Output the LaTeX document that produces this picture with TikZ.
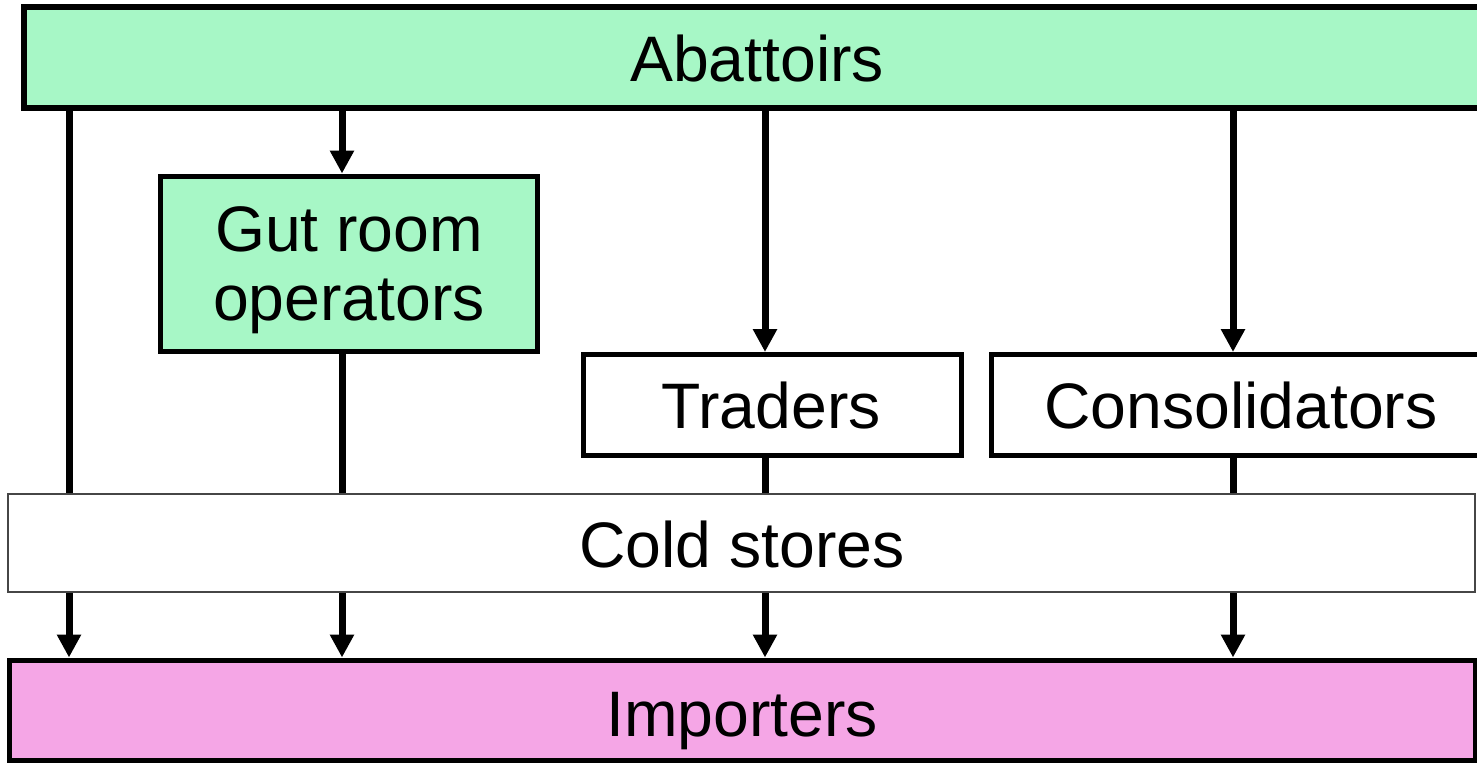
\documentclass[tikz,border=0pt]{standalone}
\usepackage{fontspec}
\setmainfont{Liberation Sans}
\usetikzlibrary{arrows.meta}
\definecolor{boxgreen}{RGB}{167,247,198}
\definecolor{boxpink}{RGB}{245,166,230}
\definecolor{thinborder}{RGB}{70,70,70}
\begin{document}
\begin{tikzpicture}[x=1pt,y=-1pt,
  lbl/.style={inner sep=0pt, anchor=base, font=\fontsize{64.3}{73}\selectfont},
  thickbox/.style={inner sep=0pt, draw=black, line width=5pt},
  flow/.style={line width=7pt, -{Triangle[width=23pt,length=23pt]}}]
\useasboundingbox (0,0) rectangle (1477,763);
\clip (0,0) rectangle (1477,763);
% boxes
\node[thickbox, line width=6pt, fill=boxgreen, minimum width=1466pt, minimum height=101pt] (ab) at (757,57.5) {};
\node[thickbox, fill=boxgreen, minimum width=377pt, minimum height=175pt] (gut) at (349,263.5) {};
\node[thickbox, fill=white, minimum width=378pt, minimum height=101pt] (tr) at (772,405) {};
\node[thickbox, fill=white, minimum width=500pt, minimum height=101pt] (con) at (1241,405) {};
\node[thickbox, fill=boxpink, minimum width=1466pt, minimum height=100pt] (imp) at (742,710) {};
% labels
\node[lbl] (abT) at (757,81.7) {Abattoirs};
\node[lbl] (gutT1) at (349,251) {Gut room};
\node[lbl] (gutT2) at (349,320) {operators};
\node[lbl] (trT) at (771,428) {Traders};
\node[lbl] (conT) at (1241,428) {Consolidators};
\node[lbl] (impT) at (742,736) {Importers};
% connectors
\coordinate (c1) at (69,0);
\coordinate (c2) at (342,0);
\coordinate (c3) at (765,0);
\coordinate (c4) at (1233,0);
\draw[flow] (ab.south -| c1) -- (imp.north -| c1);
\draw[flow] (ab.south -| c2) -- (gut.north -| c2);
\draw[flow] (gut.south -| c2) -- (imp.north -| c2);
\draw[flow] (ab.south -| c3) -- (tr.north -| c3);
\draw[flow] (tr.south -| c3) -- (imp.north -| c3);
\draw[flow] (ab.south -| c4) -- (con.north -| c4);
\draw[flow] (con.south -| c4) -- (imp.north -| c4);
% cold stores on top of the connectors
\node[inner sep=0pt, draw=thinborder, line width=1.5pt, fill=white, minimum width=1467pt, minimum height=98pt] (cold) at (741.5,543) {};
\node[lbl] (coldT) at (742,567) {Cold stores};
\end{tikzpicture}
\end{document}
